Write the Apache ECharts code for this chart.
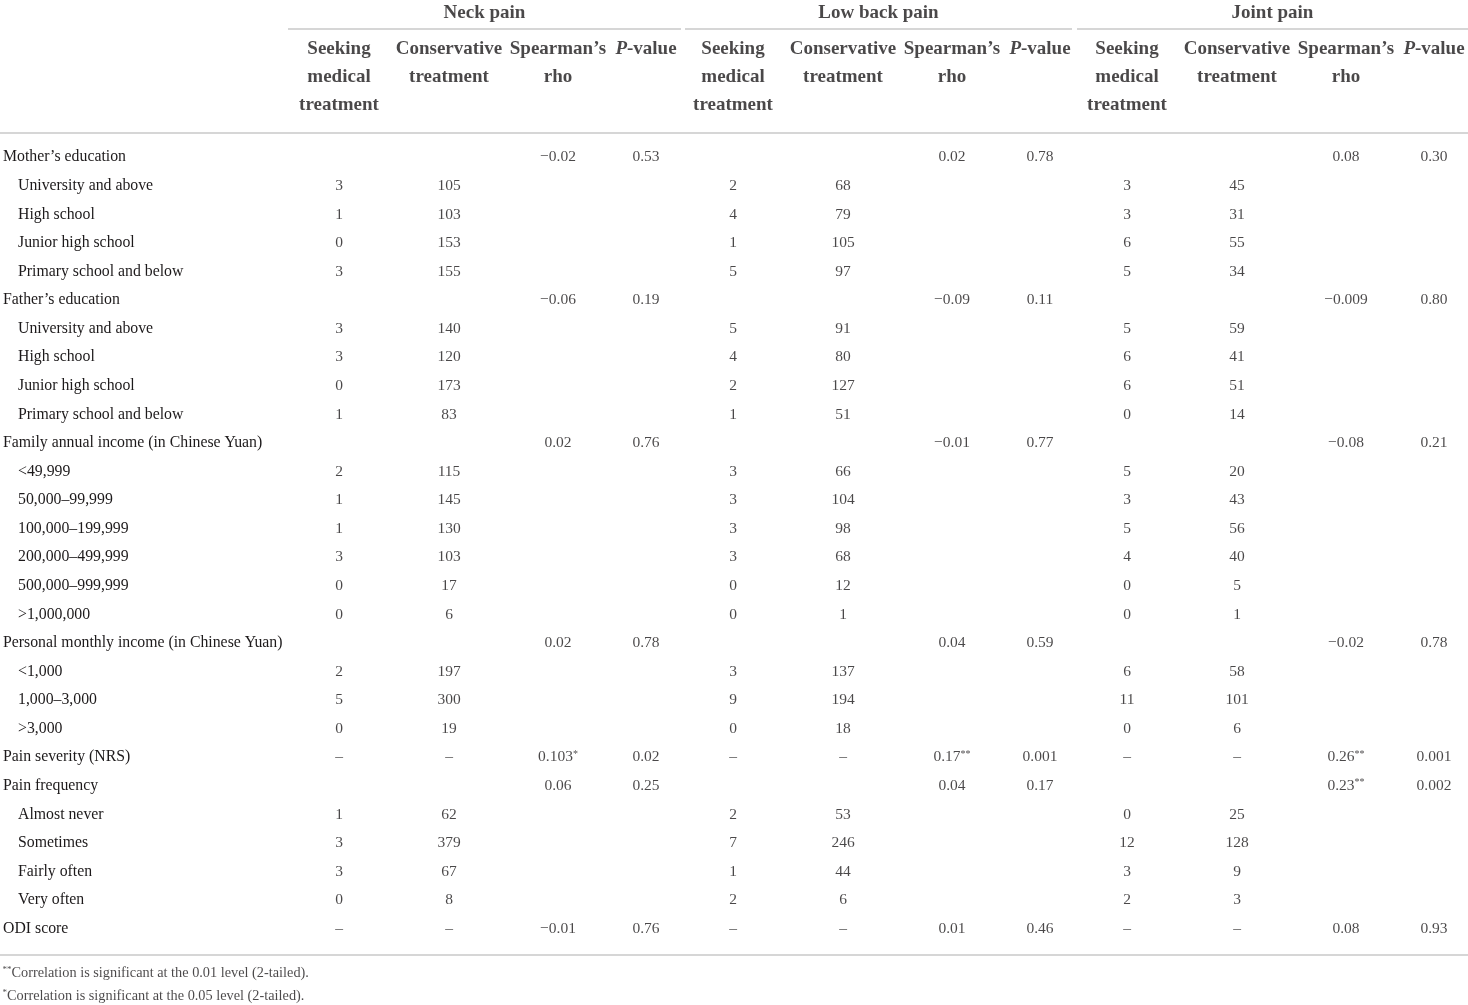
<!DOCTYPE html>
<html>
  <head>
    <meta charset="utf-8">
    <title>Pain treatment table</title>
    <style media="screen">
    html, body {margin:0; padding:0; background:#fff;}
    .box {width:1468px; height:1005px; overflow:hidden;}
    </style>
    <script src="https://cdn.jsdelivr.net/npm/echarts@6/dist/echarts.min.js" charset="utf-8"></script>
    <script>
    // row labels, level 0 = heading, 1 = indented sub item
    const rowLabels=[
      'Mother’s education','University and above','High school','Junior high school','Primary school and below',
      'Father’s education','University and above','High school','Junior high school','Primary school and below',
      'Family annual income (in Chinese Yuan)','<49,999','50,000–99,999','100,000–199,999','200,000–499,999','500,000–999,999','>1,000,000',
      'Personal monthly income (in Chinese Yuan)','<1,000','1,000–3,000','>3,000',
      'Pain severity (NRS)','Pain frequency','Almost never','Sometimes','Fairly often','Very often','ODI score'
    ];
    const rowLevel=[0,1,1,1,1, 0,1,1,1,1, 0,1,1,1,1,1,1, 0,1,1,1, 0,0,1,1,1,1,0];

    const groupNames=['Neck pain','Low back pain','Joint pain'];
    const colHeaders=['Seeking\nmedical\ntreatment','Conservative\ntreatment','Spearman’s\nrho','P-value'];

    const neckSeek=['','3','1','0','3', '','3','3','0','1', '','2','1','1','3','0','0', '','2','5','0', '–','','1','3','3','0','–'];
    const neckCons=['','105','103','153','155', '','140','120','173','83', '','115','145','130','103','17','6', '','197','300','19', '–','','62','379','67','8','–'];
    const neckRho=['−0.02','','','','', '−0.06','','','','', '0.02','','','','','','', '0.02','','','', '0.103*','0.06','','','','','−0.01'];
    const neckP=['0.53','','','','', '0.19','','','','', '0.76','','','','','','', '0.78','','','', '0.02','0.25','','','','','0.76'];

    const backSeek=['','2','4','1','5', '','5','4','2','1', '','3','3','3','3','0','0', '','3','9','0', '–','','2','7','1','2','–'];
    const backCons=['','68','79','105','97', '','91','80','127','51', '','66','104','98','68','12','1', '','137','194','18', '–','','53','246','44','6','–'];
    const backRho=['0.02','','','','', '−0.09','','','','', '−0.01','','','','','','', '0.04','','','', '0.17**','0.04','','','','','0.01'];
    const backP=['0.78','','','','', '0.11','','','','', '0.77','','','','','','', '0.59','','','', '0.001','0.17','','','','','0.46'];

    const jointSeek=['','3','3','6','5', '','5','6','6','0', '','5','3','5','4','0','0', '','6','11','0', '–','','0','12','3','2','–'];
    const jointCons=['','45','31','55','34', '','59','41','51','14', '','20','43','56','40','5','1', '','58','101','6', '–','','25','128','9','3','–'];
    const jointRho=['0.08','','','','', '−0.009','','','','', '−0.08','','','','','','', '−0.02','','','', '0.26**','0.23**','','','','','0.08'];
    const jointP=['0.30','','','','', '0.80','','','','', '0.21','','','','','','', '0.78','','','', '0.001','0.002','','','','','0.93'];

    const footnotes=[
      ['**','Correlation is significant at the 0.01 level (2-tailed).'],
      ['*','Correlation is significant at the 0.05 level (2-tailed).']
    ];

    window.onload=function (){
      const FONT='"Liberation Serif", "Times New Roman", serif';
      const INK='#1d1a1b';
      const RULE='#c9c9c9';

      // layout: column centres (px), group rule spans
      const colX=[339,449,558,646, 733,843,952,1040, 1127,1237,1346,1434];
      const groupSpan=[[288,681],[685,1072],[1077,1468]];

      const columns=[neckSeek,neckCons,neckRho,neckP, backSeek,backCons,backRho,backP, jointSeek,jointCons,jointRho,jointP];

      function cellText(s){
        let m=s.match(/^(.*?)(\*+)$/);
        return m ? '{v|'+m[1]+'}{sup|'+m[2]+'}' : '{v|'+s+'}';
      }

      let bodySeries=columns.map((col,c)=>({
        type: 'scatter',
        xAxisIndex: 0,
        yAxisIndex: 0,
        symbolSize: 1,
        itemStyle: {color: 'rgba(0,0,0,0)'},
        silent: true,
        data: col.map((v,r)=>[colX[c], r, v]).filter(d=>d[2]!==''),
        label: {
          show: true,
          position: 'inside',
          formatter: p=>cellText(p.value[2]),
          rich: {
            v: {fontFamily: FONT, fontSize: 15.5, color: INK, lineHeight: 16},
            sup: {fontFamily: FONT, fontSize: 10, color: INK, lineHeight: 10, verticalAlign: 'top'}
          }
        }
      }));

      let headerData=[];
      groupNames.forEach((g,gi)=>{
        colHeaders.forEach((h,hi)=>headerData.push([colX[gi*4+hi], 35, h]));
      });

      let headerSeries={
        type: 'scatter',
        xAxisIndex: 1,
        yAxisIndex: 1,
        symbolSize: 1,
        itemStyle: {color: 'rgba(0,0,0,0)'},
        silent: true,
        data: headerData,
        label: {
          show: true,
          position: 'bottom',
          distance: 0,
          fontFamily: FONT,
          fontSize: 19,
          fontWeight: 'bold',
          color: INK,
          lineHeight: 28,
          formatter: p=>p.value[2]=='P-value' ? '{i|P}-value' : p.value[2],
          rich: {
            i: {fontFamily: FONT, fontSize: 19, fontWeight: 'bold', fontStyle: 'italic', color: INK, lineHeight: 28}
          }
        },
        markLine: {
          silent: true,
          symbol: ['none','none'],
          label: {show: false},
          lineStyle: {color: RULE, width: 1.6, type: 'solid'},
          data: groupSpan.map(s=>[{coord: [s[0], 29]}, {coord: [s[1], 29]}]).concat([
            [{coord: [0, 133]}, {coord: [1468, 133]}],
            [{coord: [0, 955]}, {coord: [1468, 955]}]
          ])
        }
      };

      let groupSeries={
        type: 'scatter',
        xAxisIndex: 1,
        yAxisIndex: 1,
        symbolSize: 1,
        itemStyle: {color: 'rgba(0,0,0,0)'},
        silent: true,
        data: groupNames.map((g,gi)=>[(groupSpan[gi][0]+groupSpan[gi][1])/2, 13, g]),
        label: {
          show: true,
          position: 'inside',
          fontFamily: FONT,
          fontSize: 19,
          fontWeight: 'bold',
          color: INK,
          formatter: p=>p.value[2]
        }
      };

      let noteSeries={
        type: 'scatter',
        xAxisIndex: 1,
        yAxisIndex: 1,
        symbolSize: 1,
        itemStyle: {color: 'rgba(0,0,0,0)'},
        silent: true,
        data: footnotes.map((f,i)=>[2, 973+i*23, f[0]+'|'+f[1]]),
        label: {
          show: true,
          position: 'right',
          distance: 0,
          fontFamily: FONT,
          fontSize: 14.3,
          color: INK,
          formatter: p=>{
            let parts=p.value[2].split('|');
            return '{s|'+parts[0]+'}{t|'+parts[1]+'}';
          },
          rich: {
            s: {fontFamily: FONT, fontSize: 9, color: INK, lineHeight: 9, verticalAlign: 'top'},
            t: {fontFamily: FONT, fontSize: 14.3, color: INK, lineHeight: 16}
          }
        }
      };

      let option={
        animation: false,
        backgroundColor: '#fff',
        grid: [
          {left: 0, right: 0, top: 143, height: 800},
          {left: 0, right: 0, top: 0, bottom: 0}
        ],
        xAxis: [
          {type: 'value', gridIndex: 0, min: 0, max: 1468, show: false},
          {type: 'value', gridIndex: 1, min: 0, max: 1468, show: false}
        ],
        yAxis: [
          {
            type: 'category',
            gridIndex: 0,
            inverse: true,
            data: rowLabels,
            axisLine: {show: false},
            axisTick: {show: false},
            splitLine: {show: false},
            axisLabel: {
              inside: true,
              align: 'left',
              margin: 3,
              interval: 0,
              formatter: (v,i)=>(rowLevel[i] ? '{sub|' : '{main|')+v+'}',
              rich: {
                main: {fontFamily: FONT, fontSize: 15.8, color: INK},
                sub: {fontFamily: FONT, fontSize: 15.8, color: INK, padding: [0,0,0,15]}
              }
            }
          },
          {type: 'value', gridIndex: 1, min: 0, max: 1005, inverse: true, show: false}
        ],
        series: bodySeries.concat([headerSeries, groupSeries, noteSeries])
      };

      let chart=echarts.init(document.querySelector('.box'));
      chart.setOption(option);
    };
    </script>
  </head>
  <body>
    <div class="box"></div>
  </body>
</html>
